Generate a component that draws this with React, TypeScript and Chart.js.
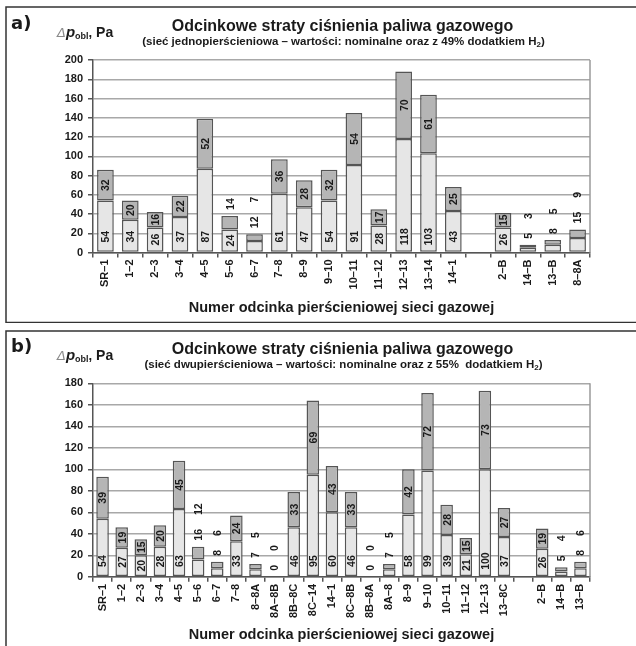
import React, { useEffect, useRef } from 'react';
import { Chart, registerables } from 'chart.js';
Chart.register(...registerables);

// ---------- data ----------
const categoriesA = ['SR–1', '1–2', '2–3', '3–4', '4–5', '5–6', '6–7', '7–8', '8–9', '9–10', '10–11', '11–12', '12–13', '13–14', '14–1', '', '2–B', '14–B', '13–B', '8–8A'];
const nominalA = [54, 34, 26, 37, 87, 24, 12, 61, 47, 54, 91, 28, 118, 103, 43, null, 26, 5, 8, 15];
const addedA = [32, 20, 16, 22, 52, 14, 7, 36, 28, 32, 54, 17, 70, 61, 25, null, 15, 3, 5, 9];
const yMaxA = 200;

const categoriesB = ['SR–1', '1–2', '2–3', '3–4', '4–5', '5–6', '6–7', '7–8', '8–8A', '8A–8B', '8B–8C', '8C–14', '14–1', '8C–8B', '8B–8A', '8A–8', '8–9', '9–10', '10–11', '11–12', '12–13', '13–8C', '', '2–B', '14–B', '13–B'];
const nominalB = [54, 27, 20, 28, 63, 16, 8, 33, 7, 0, 46, 95, 60, 46, 0, 7, 58, 99, 39, 21, 100, 37, null, 26, 5, 8];
const addedB = [39, 19, 15, 20, 45, 12, 6, 24, 5, 0, 33, 69, 43, 33, 0, 5, 42, 72, 28, 15, 73, 27, null, 19, 4, 6];
const yMaxB = 180;
const yStep = 20;

const titleText = 'Odcinkowe straty ciśnienia paliwa gazowego';
const subtitleA = '(sieć jednopierścieniowa – wartości: nominalne oraz z 49% dodatkiem H';
const subtitleB = '(sieć dwupierścieniowa – wartości: nominalne oraz z 55%  dodatkiem H';
const xTitle = 'Numer odcinka pierścieniowej sieci gazowej';

const FAM = '"Liberation Sans", Arial, sans-serif';
const TXT = '#1a1a1a';

type Seg = { t: string; font: string; dy?: number; color?: string };

function drawRich(ctx: CanvasRenderingContext2D, segs: Seg[], x: number, y: number, align: 'left' | 'center') {
  let total = 0;
  for (const s of segs) { ctx.font = s.font; total += ctx.measureText(s.t).width; }
  let cx = align === 'center' ? x - total / 2 : x;
  ctx.textAlign = 'left';
  ctx.textBaseline = 'alphabetic';
  for (const s of segs) {
    ctx.font = s.font;
    ctx.fillStyle = s.color || TXT;
    ctx.fillText(s.t, cx, y + (s.dy || 0));
    cx += ctx.measureText(s.t).width;
  }
}

interface PanelProps {
  letter: string;
  cats: string[];
  nominal: (number | null)[];
  added: (number | null)[];
  yMax: number;
  subtitle: string;
  top: number;
  barPct: number;
  plotTop: number;
  plotBottom: number;
  frameTop: number;
  frameBottom: number | null;
  titleY: number;
  subY: number;
  unitY: number;
  letterY: number;
  xTitleY: number;
}

function Panel(p: PanelProps) {
  const ref = useRef<HTMLCanvasElement>(null);
  useEffect(() => {
    const H = 323;
    const labelPlugin = {
      id: 'labels' + p.letter,
      afterDraw(chart: any) {
        const ctx: CanvasRenderingContext2D = chart.ctx;
        const ca = chart.chartArea;
        ctx.save();
        // right plot border
        ctx.strokeStyle = '#9a9a9a';
        ctx.lineWidth = 1.5;
        ctx.beginPath();
        ctx.moveTo(ca.right, ca.top);
        ctx.lineTo(ca.right, ca.bottom);
        ctx.stroke();

        // data labels
        const m0 = chart.getDatasetMeta(0);
        const m1 = chart.getDatasetMeta(1);
        const lf = `bold 10.5px ${FAM}`;
        ctx.font = lf;
        ctx.fillStyle = TXT;
        ctx.textAlign = 'center';
        ctx.textBaseline = 'middle';
        const drawRot = (txt: string, x: number, cy: number) => {
          ctx.save();
          ctx.translate(x, cy);
          ctx.rotate(-Math.PI / 2);
          ctx.fillText(txt, 0, 1);
          ctx.restore();
        };
        for (let i = 0; i < p.cats.length; i++) {
          const nv = p.nominal[i];
          const av = p.added[i];
          if (nv === null || av === null) continue;
          const e0 = m0.data[i];
          const e1 = m1.data[i];
          const x = e0.x;
          const base = e0.base;
          const nTop = e0.y;
          const aTop = e1.y;
          const nTxt = String(nv);
          const aTxt = String(av);
          const nw = ctx.measureText(nTxt).width;
          const aw = ctx.measureText(aTxt).width;
          const nH = base - nTop;
          const aH = nTop - aTop;
          const nIn = nH >= nw + 6;
          const aIn = nIn && aH >= aw + 2;
          let cursor = Math.min(aTop, nTop);
          if (nIn) {
            drawRot(nTxt, x, base - Math.min(15, nH / 2));
          } else {
            const c = cursor - 6 - nw / 2;
            drawRot(nTxt, x, c);
            cursor = c - nw / 2 - 14;
          }
          if (aIn) {
            drawRot(aTxt, x, (nTop + aTop) / 2);
          } else {
            const c = nIn ? cursor - 6 - aw / 2 : cursor - aw / 2;
            drawRot(aTxt, x, c);
          }
        }

        // frame
        ctx.strokeStyle = '#333';
        ctx.lineWidth = 1.5;
        ctx.beginPath();
        ctx.moveTo(640, p.frameTop);
        ctx.lineTo(6, p.frameTop);
        ctx.lineTo(6, p.frameBottom === null ? H + 2 : p.frameBottom);
        if (p.frameBottom !== null) ctx.lineTo(640, p.frameBottom);
        ctx.stroke();

        // panel letter
        ctx.fillStyle = TXT;
        ctx.font = `bold 18px "DejaVu Sans", sans-serif`;
        ctx.textAlign = 'left';
        ctx.textBaseline = 'alphabetic';
        ctx.fillText(p.letter + ')', 11, p.letterY);

        const cx = (ca.left + ca.right) / 2;
        // title
        ctx.font = `bold 16px ${FAM}`;
        ctx.textAlign = 'center';
        ctx.fillText(titleText, cx + 1, p.titleY);
        // subtitle
        drawRich(ctx, [
          { t: p.subtitle, font: `bold 11.5px ${FAM}` },
          { t: '2', font: `bold 8px ${FAM}`, dy: 2 },
          { t: ')', font: `bold 11.5px ${FAM}` },
        ], cx + 2, p.subY, 'center');
        // unit label
        drawRich(ctx, [
          { t: 'Δ', font: `italic 13px "DejaVu Sans", sans-serif`, color: '#8a8a8a' },
          { t: 'p', font: `italic bold 15px ${FAM}` },
          { t: 'obl', font: `bold 9px ${FAM}`, dy: 2 },
          { t: ',', font: `bold 13px ${FAM}` },
          { t: ' Pa', font: `bold 14px ${FAM}` },
        ], 57, p.unitY, 'left');
        // x title
        ctx.font = `bold 14.5px ${FAM}`;
        ctx.fillStyle = TXT;
        ctx.textAlign = 'center';
        ctx.fillText(xTitle, cx, p.xTitleY);
        ctx.restore();
      },
    };

    const tickFont = { family: FAM, weight: 'bold' as const, size: 11 };
    const chart = new Chart(ref.current!, {
      type: 'bar',
      data: {
        labels: p.cats,
        datasets: [
          {
            label: 'nominalne',
            data: p.nominal,
            backgroundColor: '#e6e6e6',
            borderColor: '#555555',
            borderWidth: 1.5,
            borderSkipped: false,
            categoryPercentage: 0.8,
            barPercentage: p.barPct,
          },
          {
            label: 'z dodatkiem H2',
            data: p.added,
            backgroundColor: '#b5b5b5',
            borderColor: '#555555',
            borderWidth: 1.5,
            borderSkipped: false,
            categoryPercentage: 0.8,
            barPercentage: p.barPct,
          },
        ],
      },
      options: {
        responsive: false,
        animation: false,
        devicePixelRatio: 1,
        layout: { padding: { left: 0, right: 46, top: p.plotTop, bottom: 0 } },
        plugins: { legend: { display: false }, tooltip: { enabled: false }, title: { display: false } },
        scales: {
          x: {
            stacked: true,
            grid: { display: true, drawOnChartArea: false, drawTicks: true, tickLength: 5, color: '#555', lineWidth: 1.5, offset: true },
            border: { display: true, color: '#555', width: 1.5 },
            ticks: { autoSkip: false, minRotation: 90, maxRotation: 90, padding: 2, color: TXT, font: tickFont },
            afterFit: (s: any) => { s.height = H - p.plotBottom; },
          },
          y: {
            stacked: true,
            min: 0,
            max: p.yMax,
            ticks: { stepSize: yStep, padding: 5, color: TXT, font: tickFont },
            grid: { color: '#a8a8a8', lineWidth: 1.5, tickLength: 5, tickColor: '#555' },
            border: { display: true, color: '#555', width: 1.5 },
            afterFit: (s: any) => { s.width = 93; },
          },
        },
      } as any,
      plugins: [labelPlugin],
    });
    return () => chart.destroy();
  }, []);
  return (
    <canvas
      ref={ref}
      width={636}
      height={323}
      style={{ position: 'absolute', left: 0, top: p.top, width: 636, height: 323 }}
    />
  );
}

export default function App() {
  return (
    <div style={{ position: 'absolute', left: 0, top: 0, width: 636, height: 646, background: '#fff', overflow: 'hidden' }}>
      <Panel
        letter="a"
        cats={categoriesA}
        nominal={nominalA}
        added={addedA}
        yMax={yMaxA}
        subtitle={subtitleA}
        top={0}
        barPct={0.84}
        plotTop={60}
        plotBottom={252.5}
        frameTop={7}
        frameBottom={322.5}
        titleY={31}
        subY={45}
        unitY={37}
        letterY={29}
        xTitleY={312}
      />
      <Panel
        letter="b"
        cats={categoriesB}
        nominal={nominalB}
        added={addedB}
        yMax={yMaxB}
        subtitle={subtitleB}
        top={323}
        barPct={0.82}
        plotTop={60.3}
        plotBottom={253.8}
        frameTop={8}
        frameBottom={null}
        titleY={31}
        subY={45}
        unitY={37}
        letterY={29}
        xTitleY={316}
      />
    </div>
  );
}
